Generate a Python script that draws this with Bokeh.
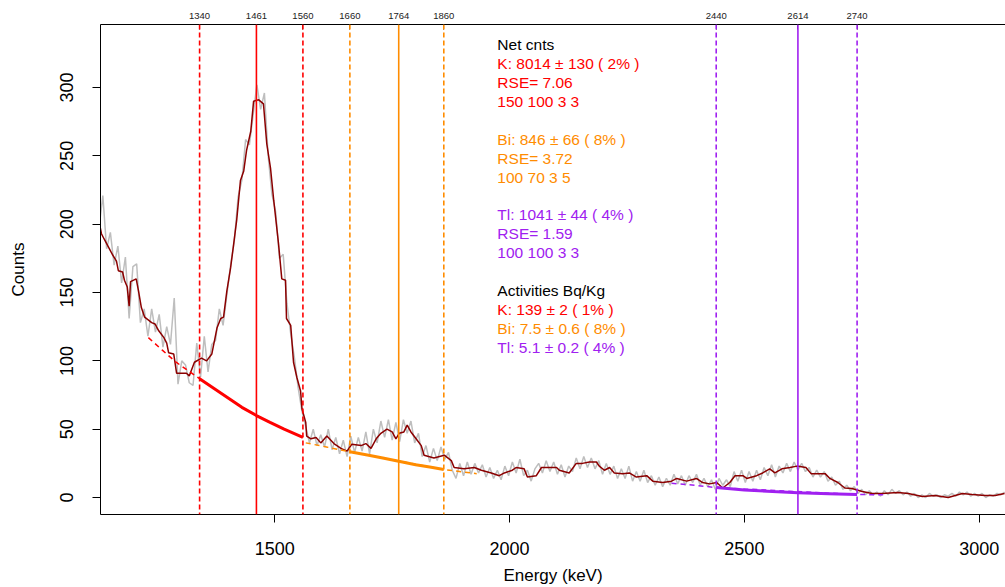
from bokeh.plotting import figure
from bokeh.models import Range1d, LinearAxis, FixedTicker, Span, ColumnDataSource
from bokeh.core.properties import value
from bokeh.embed import file_html
from bokeh.resources import INLINE

# ---------------- data ----------------
# raw spectrum (grey), channel energies (keV) and counts
raw_kev = [1126, 1134, 1142, 1150, 1158, 1166, 1174, 1182, 1190, 1198,
           1206, 1214, 1222, 1230, 1238, 1246, 1254, 1262, 1270, 1278,
           1286, 1294, 1302, 1310, 1318, 1326, 1334, 1342, 1350, 1358,
           1366, 1374, 1382, 1390, 1398, 1406, 1414, 1422, 1430, 1438,
           1446, 1454, 1462, 1470, 1478, 1486, 1494, 1502, 1510, 1518,
           1526, 1534, 1542, 1550, 1558, 1566, 1574, 1582, 1590, 1598,
           1606, 1614, 1622, 1630, 1638, 1646, 1654, 1662, 1670, 1678,
           1686, 1694, 1702, 1710, 1718, 1726, 1734, 1742, 1750, 1758,
           1766, 1774, 1782, 1790, 1798, 1806, 1814, 1822, 1830, 1838,
           1846, 1854, 1862, 1870, 1878, 1886, 1894, 1902, 1910, 1918,
           1926, 1934, 1942, 1950, 1958, 1966, 1974, 1982, 1990, 1998,
           2006, 2014, 2022, 2030, 2038, 2046, 2054, 2062, 2070, 2078,
           2086, 2094, 2102, 2110, 2118, 2126, 2134, 2142, 2150, 2158,
           2166, 2174, 2182, 2190, 2198, 2206, 2214, 2222, 2230, 2238,
           2246, 2254, 2262, 2270, 2278, 2286, 2294, 2302, 2310, 2318,
           2326, 2334, 2342, 2350, 2358, 2366, 2374, 2382, 2390, 2398,
           2406, 2414, 2422, 2430, 2438, 2446, 2454, 2462, 2470, 2478,
           2486, 2494, 2502, 2510, 2518, 2526, 2534, 2542, 2550, 2558,
           2566, 2574, 2582, 2590, 2598, 2606, 2614, 2622, 2630, 2638,
           2646, 2654, 2662, 2670, 2678, 2686, 2694, 2702, 2710, 2718,
           2726, 2734, 2742, 2750, 2758, 2766, 2774, 2782, 2790, 2798,
           2806, 2814, 2822, 2830, 2838, 2846, 2854, 2862, 2870, 2878,
           2886, 2894, 2902, 2910, 2918, 2926, 2934, 2942, 2950, 2958,
           2966, 2974, 2982, 2990, 2998, 3006, 3014, 3022, 3030, 3038,
           3046, 3054]
raw_counts = [198, 221, 182, 194, 170, 184, 157, 176, 131, 169,
              171, 128, 138, 118, 138, 121, 134, 110, 125, 112,
              146, 83, 100, 97, 84, 82, 113, 88, 118, 92,
              112, 115, 138, 126, 148, 170, 188, 220, 232, 262,
              258, 280, 302, 284, 296, 250, 222, 209, 175, 178,
              142, 120, 102, 80, 63, 52, 40, 50, 38, 46,
              37, 50, 35, 44, 32, 42, 30, 45, 33, 44,
              34, 48, 32, 50, 40, 56, 44, 57, 42, 55,
              41, 57, 47, 56, 40, 47, 30, 38, 26, 36,
              27, 37, 28, 33, 20, 14, 25, 16, 26, 17,
              25, 18, 24, 15, 22, 14, 20, 13, 23, 16,
              26, 18, 28, 16, 20, 12, 21, 25, 18, 27,
              19, 26, 17, 24, 15, 23, 19, 29, 21, 30,
              22, 29, 21, 27, 17, 25, 17, 23, 14, 21,
              14, 23, 12, 19, 12, 20, 11, 16, 9, 15,
              8, 14, 9, 17, 10, 16, 9, 16, 11, 17,
              9, 14, 8, 13, 6, 14, 9, 13, 8, 19,
              12, 20, 11, 19, 12, 20, 13, 22, 16, 24,
              15, 23, 18, 25, 19, 26, 20, 25, 19, 22,
              15, 20, 15, 19, 12, 15, 9, 12, 6, 9,
              5, 8, 3, 6, 2, 5, 2, 4, 1, 5,
              2, 6, 3, 5, 2, 4, 1, 3, 0, 2,
              0, 3, 1, 2, 0, 2, 1, 3, 1, 4,
              2, 4, 1, 3, 1, 3, 0, 2, 1, 3,
              2, 4]

# smoothed spectrum (dark red)
smooth_kev = [1127, 1131, 1137, 1148, 1154, 1163, 1167, 1176, 1180, 1186,
              1190, 1193, 1205, 1210, 1216, 1223, 1238, 1245, 1253, 1264,
              1270, 1274, 1285, 1291, 1312, 1318, 1329, 1344, 1355, 1366,
              1377, 1385, 1391, 1398, 1406, 1412, 1419, 1427, 1434, 1440,
              1449, 1455, 1466, 1476, 1483, 1491, 1498, 1508, 1515, 1523,
              1525, 1534, 1540, 1547, 1555, 1558, 1566, 1568, 1577, 1588,
              1598, 1611, 1626, 1641, 1654, 1664, 1684, 1694, 1705, 1716,
              1726, 1739, 1750, 1758, 1765, 1775, 1782, 1790, 1801, 1812,
              1818, 1839, 1861, 1876, 1882, 1903, 1925, 1940, 1961, 1978,
              1989, 2006, 2014, 2031, 2038, 2057, 2068, 2100, 2106, 2127,
              2142, 2155, 2170, 2185, 2191, 2202, 2213, 2223, 2241, 2255,
              2270, 2292, 2305, 2326, 2345, 2356, 2377, 2398, 2411, 2426,
              2441, 2454, 2469, 2480, 2497, 2505, 2526, 2539, 2554, 2565,
              2580, 2597, 2612, 2631, 2642, 2672, 2682, 2699, 2714, 2729,
              2751, 2772, 2793, 2827, 2849, 2879, 2906, 2934, 2964, 2985,
              3013, 3034, 3054]
smooth_counts = [200, 193, 189, 182, 178, 173, 166, 165, 159, 154,
                 140, 158, 160, 151, 139, 132, 128, 127, 122, 117,
                 113, 106, 105, 91, 91, 89, 99, 102, 100, 105,
                 124, 131, 132, 151, 168, 184, 203, 232, 239, 254,
                 268, 290, 291, 288, 259, 241, 217, 186, 160, 159,
                 131, 126, 99, 88, 78, 65, 55, 45, 43, 44,
                 40, 45, 39.5, 36, 34, 39, 38, 39.5, 36, 43,
                 47, 50, 48, 43, 47, 48, 53, 48, 43, 38,
                 31, 29, 31, 27, 22, 21, 22, 20, 18, 16,
                 18, 20, 22, 21, 15, 16, 22, 22, 20, 18,
                 25, 25, 26, 26, 23, 20, 22, 18, 17.5, 18,
                 15, 16, 12, 11, 12, 14, 12, 14, 11, 10,
                 11, 7, 11, 16, 16, 14, 16, 18, 21, 18,
                 21, 22, 23, 22, 17.5, 17.5, 14, 11, 7, 6.6,
                 4.4, 3, 3, 3.7, 3, 0.7, 1.5, 0, 3, 2.2,
                 1.5, 1.5, 3]

# fitted baselines: solid part and dashed extensions
k_base_kev = [1340, 1370, 1400, 1430, 1461, 1490, 1520, 1560]
k_base_counts = [87, 80, 73, 66, 60, 55, 50, 44]
k_ext_kev = [1231, 1260, 1290, 1340]
k_ext_counts = [117, 108, 99, 87]

bi_base_kev = [1660, 1700, 1730, 1764, 1800, 1830, 1860]
bi_base_counts = [33.5, 31, 29, 26.5, 24, 22.3, 20.5]
bi_ext_kev = [1566, 1610, 1660, 1860, 1930]
bi_ext_counts = [40, 37, 33.5, 20.5, 17.5]

tl_base_kev = [2440, 2500, 2560, 2614, 2680, 2740]
tl_base_counts = [7.3, 5.6, 4.4, 3.5, 2.8, 2.2]
tl_ext_kev = [2345, 2400, 2440, 2740, 2800]
tl_ext_counts = [10.5, 8.8, 7.3, 2.2, 2.0]

# window / peak markers (keV)
k_lines = [1340, 1461, 1560]
bi_lines = [1660, 1764, 1860]
tl_lines = [2440, 2614, 2740]
marker_ticks = k_lines + bi_lines + tl_lines

# annotation texts
note_lines = ["Net cnts", "K: 8014 \u00b1 130 ( 2% )", "RSE= 7.06", "150 100 3 3", "",
              "Bi: 846 \u00b1 66 ( 8% )", "RSE= 3.72", "100 70 3 5", "",
              "Tl: 1041 \u00b1 44 ( 4% )", "RSE= 1.59", "100 100 3 3", "",
              "Activities Bq/Kg", "K: 139 \u00b1 2 ( 1% )", "Bi: 7.5 \u00b1 0.6 ( 8% )",
              "Tl: 5.1 \u00b1 0.2 ( 4% )"]
note_groups = ["black", "K", "K", "K", "", "Bi", "Bi", "Bi", "",
               "Tl", "Tl", "Tl", "", "black", "K", "Bi", "Tl"]

# ---------------- styles ----------------
RED = "#FF0000"
ORANGE = "#FF8C00"
PURPLE = "#A020F0"
DARKRED = "#8B0000"
GREY = "#BEBEBE"
FONT = "Liberation Sans"
group_color = {"black": "#000000", "K": RED, "Bi": ORANGE, "Tl": PURPLE, "": "#000000"}

p = figure(width=1005, height=587, output_backend="svg", toolbar_location=None,
           x_range=Range1d(1129, 3056), y_range=Range1d(-12.4, 346.1),
           min_border_left=100, min_border_right=0, min_border_top=24,
           min_border_bottom=73)
p.outline_line_color = None
p.xgrid.visible = False
p.ygrid.visible = False
p.background_fill_color = "white"
p.border_fill_color = "white"

# axes
xa = p.xaxis[0]
xa.ticker = FixedTicker(ticks=[1500, 2000, 2500, 3000])
xa.axis_label = "Energy (keV)"
ya = p.yaxis[0]
ya.ticker = FixedTicker(ticks=[0, 50, 100, 150, 200, 250, 300])
ya.axis_label = "Counts"
ya.major_label_orientation = "vertical"
for ax in (xa, ya):
    ax.minor_tick_line_color = None
    ax.major_tick_out = 8
    ax.major_tick_in = 0
    ax.axis_line_color = "#000000"
    ax.major_tick_line_color = "#000000"
    ax.major_label_text_font = FONT
    ax.major_label_text_font_size = "18px"
    ax.major_label_text_color = "#000000"
    ax.axis_label_text_font = FONT
    ax.axis_label_text_font_size = "17px"
    ax.axis_label_text_font_style = "normal"
    ax.axis_label_text_color = "#000000"
xa.major_label_standoff = 19
xa.axis_label_standoff = 8
ya.major_label_standoff = 19
ya.axis_label_standoff = 30

top = LinearAxis(ticker=FixedTicker(ticks=marker_ticks))
top.minor_tick_line_color = None
top.major_tick_out = 0
top.major_tick_in = 5
top.major_tick_line_color = "#333333"
top.axis_line_color = "#000000"
top.major_label_text_font = FONT
top.major_label_text_font_size = "9.5px"
top.major_label_text_color = "#222222"
top.major_label_standoff = 6
p.add_layout(top, "above")

# raw spectrum and smoothed spectrum
p.line(raw_kev, raw_counts, line_color=GREY, line_width=1.5)
p.line(smooth_kev, smooth_counts, line_color=DARKRED, line_width=1.5)

# vertical markers
for energies, col in ((k_lines, RED), (bi_lines, ORANGE), (tl_lines, PURPLE)):
    for i, e in enumerate(energies):
        dash = "solid" if i == 1 else "5 3"
        p.add_layout(Span(location=e, dimension="height", line_color=col,
                          line_width=1.6, line_dash=dash))

# baselines
for ek, ec, bk, bc, col in ((k_ext_kev, k_ext_counts, k_base_kev, k_base_counts, RED),
                            (bi_ext_kev, bi_ext_counts, bi_base_kev, bi_base_counts, ORANGE),
                            (tl_ext_kev, tl_ext_counts, tl_base_kev, tl_base_counts, PURPLE)):
    p.line(ek, ec, line_color=col, line_width=1.5, line_dash="5 4")
    p.line(bk, bc, line_color=col, line_width=3)

# annotation block
text_x = 1974
top_count = (497 - 44.3) / 1.36667
step_count = 18.9 / 1.36667
src = ColumnDataSource(dict(
    x=[text_x] * len(note_lines),
    y=[top_count - i * step_count for i in range(len(note_lines))],
    t=note_lines,
    c=[group_color[g] for g in note_groups]))
p.text(x="x", y="y", text="t", text_color="c", source=src,
       text_font=value(FONT), text_font_size="15.5px",
       text_align="left", text_baseline="middle")

open("out.html", "w").write(file_html(p, INLINE))
